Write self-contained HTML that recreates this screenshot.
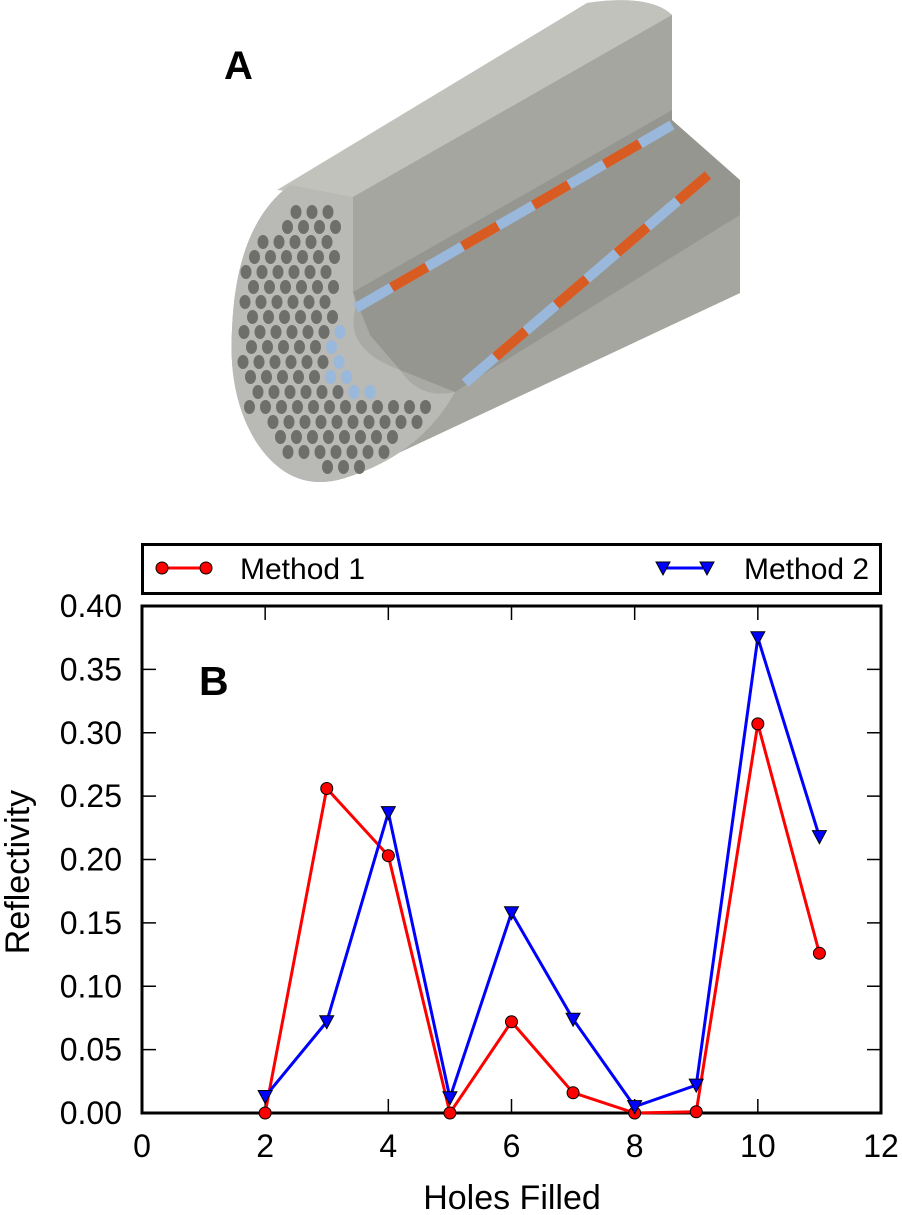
<!DOCTYPE html>
<html><head><meta charset="utf-8"><style>
html,body{margin:0;padding:0;background:#fff;}
svg{display:block;font-family:"Liberation Sans",sans-serif;}
</style></head><body>
<svg id="fig" width="902" height="1215" viewBox="0 0 902 1215" xmlns="http://www.w3.org/2000/svg">
<g id="illus">
  <path d="M232,330 Q236,225 290,185 L587,3 Q650,-6 672,15 L672,120 L740,185 L740,293 L345,478 Q290,495 255,440 Q228,395 232,330 Z" fill="#a9a9a5"/>
  <path d="M277,190 L587,3 Q650,-6 672,15 L353,197 Z" fill="#c2c2bd"/>
  <path d="M353,197 L672,15 L672,110 L353,292 Z" fill="#a6a6a1"/>
  <path d="M353,292 L672,110 L672,120 L740,180 L740,215 L455,392 L400,370 L370,335 Z" fill="#969691"/>
  <path d="M455,392 L740,215 L740,293 L345,478 Z" fill="#a6a6a1"/>
  <path d="M290,185 Q236,225 232,330 Q228,395 255,440 Q290,495 345,478 Q420,455 455,392 Q420,400 400,370 Q345,350 355,310 Q355,300 353,292 L353,197 Z" fill="#b9b9b5"/>
  <g id="holes"></g>
  <g><line x1="356" y1="308" x2="672" y2="125" stroke="#9ab8dc" stroke-width="10"/><line x1="356" y1="308" x2="672" y2="125" stroke="#d85c22" stroke-width="10" stroke-dasharray="0 41 41 0"/></g>
  <g><line x1="465" y1="383" x2="708" y2="175" stroke="#9ab8dc" stroke-width="10"/><line x1="465" y1="383" x2="708" y2="175" stroke="#d85c22" stroke-width="10" stroke-dasharray="0 40 40 0"/></g>
  <text x="224" y="79" font-size="40" font-weight="bold">A</text>
</g>
<g id="legend">
  <rect x="142.5" y="544.5" width="738" height="49" fill="none" stroke="#000" stroke-width="3"/>
  <g>
    <line x1="162" y1="568" x2="206" y2="568" stroke="#f00" stroke-width="3"/>
    <circle cx="162" cy="568" r="6" fill="#f00" stroke="#000" stroke-width="1"/>
    <circle cx="206" cy="568" r="6" fill="#f00" stroke="#000" stroke-width="1"/>
    <text x="240" y="579" font-size="30">Method 1</text>
  </g>
  <g>
    <line x1="663" y1="568" x2="707" y2="568" stroke="#00f" stroke-width="3"/>
    <path d="M656,562 L670,562 L663,575 Z" fill="#00f" stroke="#000" stroke-width="1"/>
    <path d="M700,562 L714,562 L707,575 Z" fill="#00f" stroke="#000" stroke-width="1"/>
    <text x="744" y="579" font-size="30">Method 2</text>
  </g>
</g>
<g id="chart"></g>
</svg>
<script>
const xTicks=[0,2,4,6,8,10,12];
const yTicks=["0.00","0.05","0.10","0.15","0.20","0.25","0.30","0.35","0.40"];
const holes=[2,3,4,5,6,7,8,9,10,11];
const method1=[0.0,0.256,0.203,0.0,0.072,0.016,0.0,0.001,0.307,0.126];
const method2=[0.013,0.072,0.237,0.012,0.158,0.074,0.005,0.022,0.375,0.218];

const NS="http://www.w3.org/2000/svg";
const L=142,R=881,T=606,B=1113;
const X=v=>L+(v-0)/(12-0)*(R-L);
const Y=v=>B-(v-0)/(0.4-0)*(B-T);
function mk(tag,at,parent){const e=document.createElementNS(NS,tag);for(const k in at)e.setAttribute(k,at[k]);parent.appendChild(e);return e;}
const g=document.getElementById('chart');
const hg=document.getElementById('holes');
for(let r=0;r<18;r++){for(let c=0;c<14;c++){
  const cx=248+c*16+(r%2)*8-r*0.5, cy=212+r*15;
  const dx=(cx-338)/105, dy=(cy-335)/135;
  if(dx*dx+dy*dy>1)continue;
  if(cx>340&&cy<372)continue;
  if(cx>385&&cy<395)continue;
  if(Math.hypot(cx-372,cy-352)<30)continue;
  const filled=Math.abs(Math.hypot(cx-372,cy-352)-40)<9&&cy<420&&cx<455;
  const h=mk('ellipse',{cx:cx,cy:cy,rx:5.5,ry:7,fill:filled?'#9ab8dc':'#6e6e6a'},hg);
  
  
}}
const fr=mk('rect',{x:L,y:T,width:R-L,height:B-T,fill:'none',stroke:'#000','stroke-width':3},g);


xTicks.forEach(t=>{
  const x=X(t);
  const a=mk('line',{x1:x,y1:B,x2:x,y2:B-14,stroke:'#000','stroke-width':1.5},g);
  
  
  mk('line',{x1:x,y1:T,x2:x,y2:T+14,stroke:'#000','stroke-width':1.5},g);
  const tx=mk('text',{x:x,y:B+44,'font-size':32,'text-anchor':'middle'},g);
  tx.textContent=t;
  
  
});
yTicks.forEach(t=>{
  const y=Y(parseFloat(t));
  const a=mk('line',{x1:L,y1:y,x2:L+14,y2:y,stroke:'#000','stroke-width':1.5},g);
  
  
  mk('line',{x1:R,y1:y,x2:R-14,y2:y,stroke:'#000','stroke-width':1.5},g);
  const tx=mk('text',{x:L-20,y:y+11,'font-size':32,'text-anchor':'end'},g);
  tx.textContent=t;
  
  
});
const xl=mk('text',{x:512,y:1209,'font-size':34,'text-anchor':'middle'},g);
xl.textContent='Holes Filled';


const yl=mk('text',{x:0,y:0,'font-size':34,'text-anchor':'middle',transform:'translate(29,872) rotate(-90)'},g);
yl.textContent='Reflectivity';


const bl=mk('text',{x:199,y:695,'font-size':41,'font-weight':'bold'},g);
bl.textContent='B';


const l1=mk('polyline',{points:holes.map((h,i)=>X(h)+','+Y(method1[i])).join(' '),fill:'none',stroke:'#f00','stroke-width':3},g);


const l2=mk('polyline',{points:holes.map((h,i)=>X(h)+','+Y(method2[i])).join(' '),fill:'none',stroke:'#00f','stroke-width':3},g);


holes.forEach((h,i)=>{
  const c=mk('circle',{cx:X(h),cy:Y(method1[i]),r:6,fill:'#f00',stroke:'#000','stroke-width':1},g);
  
  
});
holes.forEach((h,i)=>{
  const x=X(h),y=Y(method2[i]);
  const p=mk('path',{d:`M${x-7},${y-6} L${x+7},${y-6} L${x},${y+7} Z`,fill:'#00f',stroke:'#000','stroke-width':1},g);
  
  
});
</script>
</body></html>
